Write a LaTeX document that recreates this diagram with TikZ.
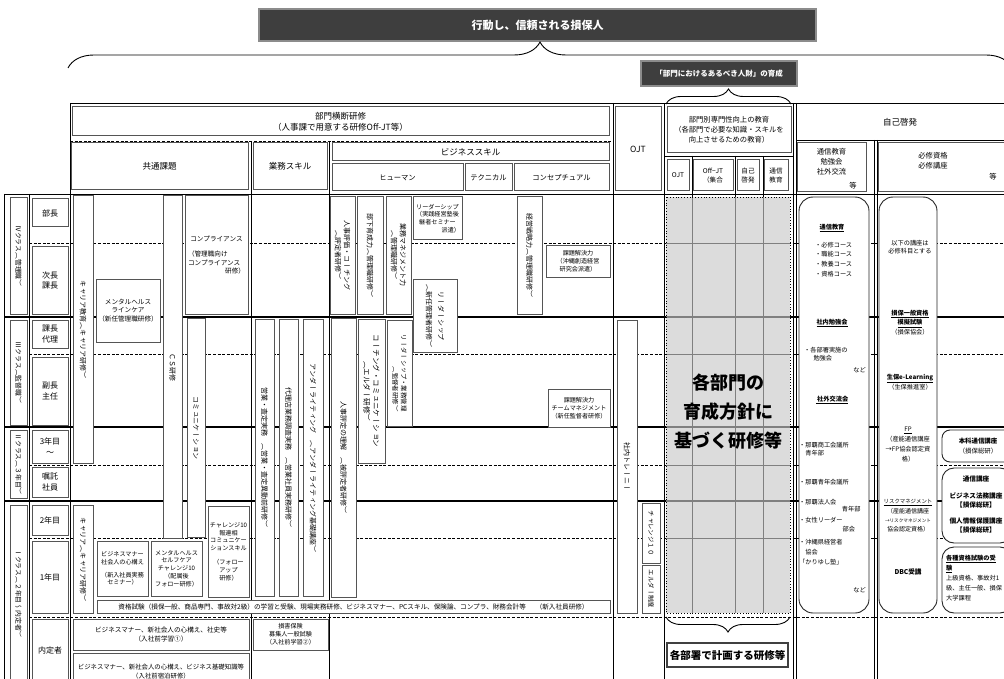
\documentclass[tikz,border=0pt]{standalone}
\usepackage{fontspec}
\usepackage{tikz}
\usetikzlibrary{decorations.pathreplacing}
\newfontfamily\jp{Noto Sans CJK JP}
\newfontfamily\jpv[Vertical=RotatedGlyphs]{Noto Sans CJK JP}
\definecolor{TitleGray}{RGB}{62, 62, 62}
\definecolor{BoxEdge}{RGB}{85, 85, 85}
\definecolor{AreaGray}{RGB}{220, 220, 220}

\tikzset{
  cell/.style={draw=BoxEdge, line width=1pt, fill=white, inner sep=1pt, align=center},
  hdr/.style={font=\jp\fontsize{8.5}{11}\selectfont},
  sub/.style={font=\jp\fontsize{7.3}{10}\selectfont, align=center},
  rank/.style={font=\jp\fontsize{8}{10.5}\selectfont},
  fbody/.style={font=\jp\fontsize{6.6}{8.4}\selectfont},
  fsmall/.style={font=\jp\fontsize{6.1}{7.8}\selectfont},
  vcell/.style={cell, rotate=-90, font=\jpv\fontsize{7}{9}\selectfont},
  vclass/.style={vcell, font=\jpv\fontsize{6.8}{9}\selectfont},
  note/.style={inner sep=0pt, align=left, font=\jp\fontsize{6.2}{8.5}\selectfont},
  notec/.style={note, align=center},
  rbox/.style={draw=black!85, line width=0.9pt, rounded corners=14pt, fill=white},
  banner/.style={draw=black!45, line width=1.6pt, fill=TitleGray, text=white},
  gridline/.style={line width=0.7pt},
  griddash/.style={line width=0.7pt, dash pattern=on 3pt off 1.6pt},
  gridthick/.style={line width=1.8pt},
  curly/.style={decorate, decoration={brace, amplitude=#1}, line width=0.9pt},
}

\begin{document}
\begin{tikzpicture}[x=1pt, y=-1pt]
\useasboundingbox (0,0) rectangle (1004,679);
\clip (0,0) rectangle (1004,679);

% table rules
\draw[gridline] (4,194) -- (1004,194);
\foreach \y in {243,354,465,538,617} \draw[griddash] (29,\y) -- (1004,\y);
\foreach \y in {317,427,501} \draw[gridthick] (4,\y) -- (1004,\y);
\foreach \x in {4,29} \draw[gridline] (\x,194) -- (\x,679);
\foreach \x in {70,613,664,793,796} \draw[gridline] (\x,103) -- (\x,679);
\foreach \x in {251,329} \draw[gridline] (\x,141) -- (\x,679);
\foreach \x in {874,877} \draw[gridline] (\x,140) -- (\x,679);
\foreach \x in {692,735,763} \draw[gridline] (\x,156) -- (\x,197);
\draw[gridline] (70,103) -- (1004,103);
\draw[griddash] (70,141) -- (613,141);
\draw[gridline] (796,140) -- (1004,140) (664,156) -- (793,156);

% grey block
\fill[AreaGray] (666,197) rectangle (790,613);
\foreach \x in {692,735,763} \draw[gray, line width=0.6pt] (\x,197) -- (\x,613);
\foreach \y in {243,354,465,538} \draw[gray, line width=0.6pt] (666,\y) -- (790,\y);
\foreach \y in {317,427,501} \draw[gray, line width=1.2pt] (666,\y) -- (790,\y);
\draw[line width=0.8pt, dotted] (666,197) rectangle (790,613);
\node[font=\jp\bfseries\fontsize{18}{29}\selectfont, align=center] (hoshin) at (728,412) {各部門の\\育成方針に\\基づく研修等};

% titles
\node[banner, font=\jp\bfseries\fontsize{11}{13}\selectfont, minimum width=557, minimum height=32] (motto) at (537.5,25) {行動し、信頼される損保人};
\node[banner, font=\jp\bfseries\fontsize{7.5}{9}\selectfont, minimum width=156, minimum height=25] (jinzai) at (719,73.5) {「部門におけるあるべき人財」の育成};
\draw[curly=26] (68,68) -- (1012,68);
\draw[curly=15] (666,104) -- (791,104);
\draw[curly=15] (790,617) -- (666,617);
\node[cell, draw=black!75, line width=1.1pt, font=\jp\bfseries\fontsize{10.5}{12}\selectfont, minimum width=121, minimum height=24] (busho) at (727.5,655) {各部署で計画する研修等};

% header
\node[cell, hdr, minimum width=537, minimum height=29] (oudan) at (340.5,121.5) {部門横断研修\\（人事課で用意する研修Off-JT等）};
\node[cell, hdr, minimum width=177, minimum height=47] (kyotsu) at (159.5,166.5) {共通課題};
\node[cell, hdr, minimum width=74, minimum height=47] (gyomu) at (290,166.5) {業務スキル};
\node[cell, hdr, minimum width=277, minimum height=18] (bizskill) at (470.5,152) {ビジネススキル};
\node[cell, sub, minimum width=131, minimum height=27] (human) at (397.5,177.5) {ヒューマン};
\node[cell, sub, minimum width=47, minimum height=27] (technical) at (488.5,177.5) {テクニカル};
\node[cell, sub, minimum width=95, minimum height=27] (conceptual) at (561.5,177.5) {コンセプチュアル};
\node[cell, hdr, minimum width=46, minimum height=84] (ojt) at (638,149) {OJT};
\node[cell, sub, minimum width=124, minimum height=46] (senmon) at (729,130) {部門別専門性向上の教育\\（各部門で必要な知識・スキルを\\向上させるための教育）};
\node[cell, fbody, minimum width=22, minimum height=31] (subojt) at (678,175.5) {OJT};
\node[cell, fbody, minimum width=40, minimum height=31] (suboff) at (713,175.5) {Off−JT\\（集合};
\node[cell, fbody, minimum width=22, minimum height=31] (subjiko) at (748,175.5) {自己\\啓発};
\node[cell, fbody, minimum width=24, minimum height=31] (subtsu) at (776,175.5) {通信\\教育};
\node[hdr] (jiko) at (900,122) {自己啓発};
\node[cell, minimum width=69, minimum height=49] (kyoikuhdr) at (831.5,167.5) {};
\node[sub] (kyoikutxt) at (831.5,162) {通信教育\\勉強会\\社外交流};
\node[sub] (kyoikuetc) at (853,186) {等};
\node[cell, minimum width=132, minimum height=49] (hisshuhdr) at (944,167.5) {};
\node[sub] (hisshutxt) at (933,160.5) {必修資格\\必修講座};
\node[sub] (hisshuetc) at (993,177) {等};

% class and rank column
\node[vclass, minimum width=116, minimum height=17] (classIV) at (18.5,256) {Ⅳクラス（管理職）};
\node[vclass, minimum width=105, minimum height=17] (classIII) at (18.5,372.5) {Ⅲクラス（監督職）};
\node[vclass, minimum width=68, minimum height=17] (classII) at (18.5,464) {Ⅱクラス（３年目）};
\node[vclass, minimum width=177, minimum height=17] (classI) at (18.5,593.5) {Ⅰクラス（２年目～内定者）};
\node[cell, rank, minimum width=36, minimum height=28] (bucho) at (50,213) {部長};
\node[cell, rank, minimum width=36, minimum height=67] (jicho) at (50,280.5) {次長\\課長};
\node[cell, rank, minimum width=36, minimum height=28] (dairi) at (50,334) {課長\\代理};
\node[cell, rank, minimum width=36, minimum height=68] (fukucho) at (50,391) {副長\\主任};
\node[cell, rank, minimum width=36, minimum height=33] (sannen) at (50,446.5) {3年目\\～};
\node[cell, rank, minimum width=36, minimum height=30] (shokutaku) at (50,482) {嘱託\\社員};
\node[cell, rank, minimum width=36, minimum height=30] (ninen) at (50,520) {2年目};
\node[cell, rank, minimum width=36, minimum height=72] (ichinen) at (50,577) {1年目};
\node[cell, rank, minimum width=36, minimum height=63] (naitei) at (50,650.5) {内定者};

% common subjects
\node[vcell, minimum width=267, minimum height=20] (career) at (83,329.5) {キャリア教育（キャリア研修）};
\node[vcell, minimum width=342, minimum height=19] (cs) at (172.5,367) {ＣＳ研修};
\node[vcell, minimum width=219, minimum height=18] (commu) at (196,427.5) {コミュニケーション};
\node[cell, fbody, minimum width=63, minimum height=118, text width=57, align=left] (comp) at (216.5,255) {\makebox[\linewidth]{コンプライアンス}\\[7pt]（管理職向け\\コンプライアンス\\\makebox[\linewidth][r]{研修）}};
\node[cell, fbody, minimum width=64, minimum height=63] (linecare) at (128,310.5) {メンタルヘルス\\ラインケア\\（新任管理職研修）};
\node[vcell, minimum width=108, minimum height=20] (career2) at (83,559) {キャリア（キャリア研修）};
\node[cell, fsmall, minimum width=51, minimum height=55] (manner) at (122.5,568.5) {ビジネスマナー\\社会人の心構え\\[5pt]（新入社員実務\\セミナー）};
\node[cell, fsmall, minimum width=51, minimum height=55] (selfcare) at (176.5,568.5) {メンタルヘルス\\セルフケア\\チャレンジ10\\（配属後\\フォロー研修）};
\node[cell, fsmall, minimum width=41, minimum height=91] (hourensou) at (228.5,551.5) {チャレンジ10\\報連相\\コミュニケー\\ションスキル\\[6pt]（フォロー\\アップ\\研修）};
\node[cell, fbody, minimum width=513, minimum height=13] (shikaku) at (353.5,606.5) {資格試験（損保一般、商品専門、事故対2級）の学習と受験、現場実務研修、ビジネスマナー、PCスキル、保険論、コンプラ、財務会計等\hspace{1.5em}（新入社員研修）};
\node[cell, fbody, minimum width=176, minimum height=31] (pre1) at (161,634.5) {ビジネスマナー、新社会人の心構え、社史等\\（入社前学習①）};
\node[cell, fsmall, minimum width=75, minimum height=31] (songai) at (290.5,634.5) {損害保険\\募集人一般試験\\（入社前学習②）};
\node[cell, font=\jp\fontsize{6.4}{9}\selectfont, minimum width=176, minimum height=37] (pre2) at (161,671.5) {ビジネスマナー、新社会人の心構え、ビジネス基礎知識等\\（入社前宿泊研修）};

% business skills
\node[vcell, minimum width=277, minimum height=19] (eigyo) at (264.5,457.5) {営業・査定実務　（営業・査定異動前研修）};
\node[vcell, minimum width=277, minimum height=19] (dairiten) at (288.5,457.5) {代理店業務調査実務　（営業社員実務研修）};
\node[vcell, minimum width=277, minimum height=20] (uw) at (313,457.5) {アンダーライティング　（アンダーライティング基礎講座）};
\node[vcell, minimum width=117, minimum height=25] (hyoka) at (342.5,255.5) {人事評価・コーチング\\（評定者研修）};
\node[vcell, minimum width=117, minimum height=26] (buka) at (370,255.5) {部下育成力（管理職研修）};
\node[vcell, minimum width=117, minimum height=25] (mgmt) at (398.5,255.5) {業務マネジメント力\\（管理職研修）};
\node[cell, fsmall, minimum width=49, minimum height=43, text width=45] (leader1) at (437.5,218.5) {リーダーシップ\\（実践経営塾後\\継者セミナー\\\makebox[\linewidth][r]{派遣）}};
\node[vcell, minimum width=73, minimum height=44, font=\jpv\fontsize{7}{12}\selectfont] (leader2) at (435,315.5) {リーダーシップ\\（新任管理者研修）};
\node[vcell, minimum width=117, minimum height=25] (senryaku) at (529.5,255.5) {経営戦略力（管理職研修）};
\node[cell, fsmall, minimum width=64, minimum height=31] (kadai1) at (578,261.5) {課題解決力\\（沖縄創造経営\\研究会派遣）};
\node[vcell, minimum width=279, minimum height=25] (rikai) at (343.5,457.5) {人事評定の理解　（被評定者研修）};
\node[vcell, minimum width=144, minimum height=27, font=\jpv\fontsize{7.5}{9.5}\selectfont] (coach) at (371.5,391) {コーチング・コミュニケーション\\（エルダー研修）};
\node[vcell, minimum width=106, minimum height=25, align=right, font=\jpv\fontsize{6.4}{8.5}\selectfont] (leader3) at (399.5,373) {リーダーシップ・業務管理\\（監督者研修）};
\node[cell, fsmall, minimum width=62, minimum height=38] (kadai2) at (579,408) {課題解決力\\チームマネジメント\\（新任監督者研修）};

% OJT
\node[vcell, minimum width=293, minimum height=20] (trainee) at (627,466.5) {社内トレーニー};
\node[vcell, minimum width=60, minimum height=18, font=\jpv\fontsize{6.4}{8}\selectfont] (chal10) at (651,533) {チャレンジ１０};
\node[vcell, minimum width=48, minimum height=18, font=\jpv\fontsize{6.4}{8}\selectfont] (elder) at (651,589) {エルダー制度};

% self development
\node[rbox, minimum width=70, minimum height=416] (tsushinbox) at (834,405) {};
\node[notec, font=\jp\bfseries\fontsize{6.2}{8.5}\selectfont] (t1) at (832,228) {\underline{通信教育}};
\node[note, anchor=west, font=\jp\fontsize{6.2}{9.7}\selectfont] (t2) at (815,259.5) {・必修コース\\・職能コース\\・教養コース\\・資格コース};
\node[notec, font=\jp\bfseries\fontsize{6.2}{8.5}\selectfont] (t3) at (832,323) {\underline{社内勉強会}};
\node[note, anchor=north west] (t4) at (804,347) {・各部署実施の\\\hspace*{1.5em}勉強会};
\node[note, anchor=east] (t5) at (866,370) {など};
\node[notec, font=\jp\bfseries\fontsize{6.2}{8.5}\selectfont] (t6) at (832,400) {\underline{\ 社外交流会}};
\node[note, anchor=north west] (t7) at (799,442) {・那覇商工会議所\\\hspace*{1em}青年部};
\node[note, anchor=north west] (t8) at (799,479) {・那覇青年会議所};
\node[note, anchor=north west] (t9) at (799,499) {・那覇法人会\\[-1pt]\hspace*{6.9em}青年部};
\node[note, anchor=north west] (t10) at (799,517) {・女性リーダー\\[1pt]\hspace*{7em}部会};
\node[note, anchor=north west, font=\jp\fontsize{6.2}{10}\selectfont] (t11) at (799,539) {・沖縄県経営者\\\hspace*{1em}協会\\「かりゆし塾」};
\node[note, anchor=east] (t12) at (866,590) {など};

\node[rbox, minimum width=58, minimum height=416] (hisshubox) at (908,405) {};
\node[notec] (h1) at (910,247) {以下の講座は\\必修科目とする};
\node[notec, font=\jp\fontsize{6.2}{9.5}\selectfont] (h2) at (910,322.5) {\textbf{\underline{損保一般資格}}\\\textbf{\underline{模擬試験}}\\（損保協会）};
\node[notec, font=\jp\fontsize{6.2}{10}\selectfont] (h3) at (910,382) {\textbf{\underline{生保e-Learning}}\\（生保推進室）};
\node[notec, font=\jp\fontsize{6.2}{10}\selectfont] (h4) at (908,445) {\underline{FP}\\（産能通信講座\\→FP協会認定資\\格）};
\node[notec, font=\jp\fontsize{6}{9.3}\selectfont] (h5) at (908,516) {{\fontsize{5.4}{6}\selectfont\underline{リスクマネジメント}}\\（産能通信講座\\{\fontsize{4.6}{5}\selectfont →リスクマネジメント}\\協会認定資格）};
\node[notec, font=\jp\bfseries\fontsize{6.6}{8}\selectfont] (h6) at (908,572) {DBC受講};

\node[rbox, rounded corners=8pt, minimum width=70, minimum height=32] (honka) at (977,446) {};
\node[notec, font=\jp\fontsize{6.4}{10}\selectfont] (honkatxt) at (978,446) {\textbf{本科通信講座}\\（損保総研）};
\node[rbox, rounded corners=12pt, minimum width=70, minimum height=75] (tsushinko) at (977,505.5) {};
\node[notec, anchor=north, font=\jp\bfseries\fontsize{6.6}{9}\selectfont] (tsushinkotxt) at (976,476) {通信講座\\[7.5pt]ビジネス法務講座\\【損保総研】\\[7.5pt]個人情報保護講座\\【損保総研】};
\node[rbox, rounded corners=12pt, minimum width=70, minimum height=66] (kakushu) at (977,580) {};
\node[note, anchor=north west, font=\jp\fontsize{6.2}{10}\selectfont] (kakushutxt) at (946,555) {\textbf{\underline{各種資格試験の受}}\\\textbf{\underline{験}}\\上級資格、事故対1\\級、主任一般、損保\\大学課程};
\end{tikzpicture}
\end{document}
